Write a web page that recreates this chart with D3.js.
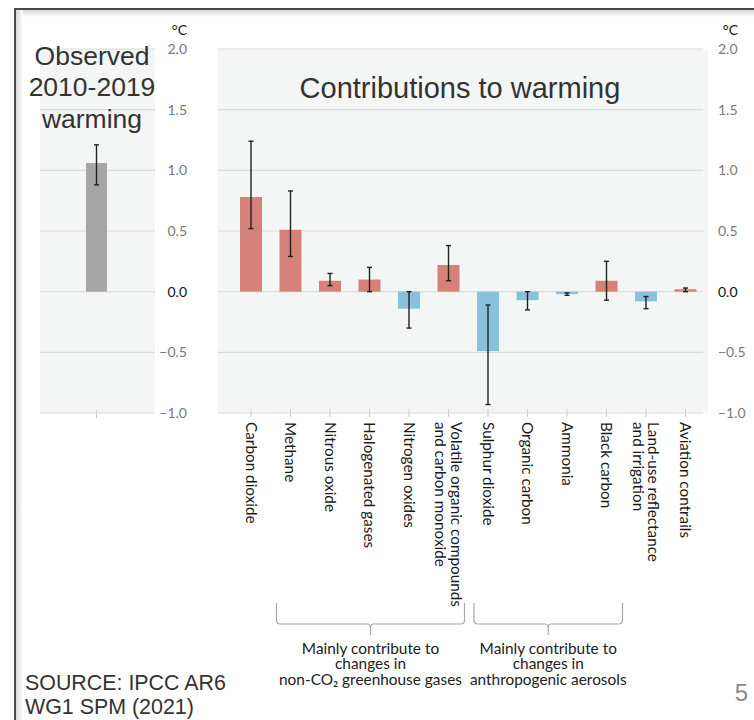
<!DOCTYPE html>
<html>
<head>
<meta charset="utf-8">
<script src="https://cdn.jsdelivr.net/npm/d3@7"></script>
<style>
  body { margin: 0; background: #fff; }
  svg { display: block; }
</style>
</head>
<body>
<svg id="chart" width="754" height="720"></svg>
<script>
// Observed warming 2010-2019 (best estimate and likely range)
const observedLabel = ["Observed", "2010-2019", "warming"];
const observedValue = [1.06];
const observedLow = [0.88];
const observedHigh = [1.21];

// Contributions to warming, by component
const categories = [
    "Carbon dioxide", "Methane", "Nitrous oxide", "Halogenated gases",
    "Nitrogen oxides", "Volatile organic compounds\nand carbon monoxide",
    "Sulphur dioxide", "Organic carbon", "Ammonia", "Black carbon",
    "Land-use reflectance\nand irrigation", "Aviation contrails"
];
const values = [0.78, 0.51, 0.09, 0.10, -0.14, 0.22, -0.49, -0.07, -0.02, 0.09, -0.08, 0.02];
const errLow = [0.52, 0.29, 0.05, 0.00, -0.30, 0.09, -0.93, -0.15, -0.03, -0.07, -0.14, 0.00];
const errHigh = [1.24, 0.83, 0.15, 0.20, 0.00, 0.38, -0.11, 0.00, -0.01, 0.25, -0.04, 0.03];

const yTicks = [-1.0, -0.5, 0.0, 0.5, 1.0, 1.5, 2.0];

const groupLabels = [
    ["Mainly contribute to", "changes in", "non-CO\u2082 greenhouse gases"],
    ["Mainly contribute to", "changes in", "anthropogenic aerosols"]
];
// first and last category of each bracket
const groupSpans = [[1, 5], [6, 9]];

const svg = d3.select("#chart");
const slideFont = "'Liberation Sans', Arial, sans-serif";
const chartFont = "Lato, 'Noto Sans', sans-serif";

// Slide frame with a soft inner shadow
const defs = svg.append("defs");
const gTop = defs.append("linearGradient").attr("id", "shadeTop")
    .attr("x1", 0).attr("y1", 0).attr("x2", 0).attr("y2", 1);
gTop.append("stop").attr("offset", 0).attr("stop-color", "#d8d8d8");
gTop.append("stop").attr("offset", 1).attr("stop-color", "#fff");
const gLeft = defs.append("linearGradient").attr("id", "shadeLeft")
    .attr("x1", 0).attr("y1", 0).attr("x2", 1).attr("y2", 0);
gLeft.append("stop").attr("offset", 0).attr("stop-color", "#d8d8d8");
gLeft.append("stop").attr("offset", 1).attr("stop-color", "#fff");

svg.append("rect").attr("x", 16).attr("y", 10).attr("width", 738).attr("height", 7)
    .attr("fill", "url(#shadeTop)");
svg.append("rect").attr("x", 16).attr("y", 10).attr("width", 7).attr("height", 710)
    .attr("fill", "url(#shadeLeft)");
svg.append("path").attr("d", "M15,720V9H754")
    .attr("fill", "none").attr("stroke", "#4a4a4a").attr("stroke-width", 2);

// Scales
const y = d3.scaleLinear().domain([-1, 2]).range([413, 49]);
const xObs = d3.scalePoint().domain(["obs"]).range([40, 153]).padding(0.5);
const x = d3.scalePoint().domain(categories).range([251, 685.5]);

const barW = 22;
const red = "#d5817a";
const blue = "#88c1dc";
const gray = "#a6a6a6";

// Panel backgrounds
svg.append("rect").attr("x", 40).attr("y", y(2)).attr("width", 115)
    .attr("height", y(-1) - y(2)).attr("fill", "#f4f6f5");
svg.append("rect").attr("x", 218).attr("y", y(2)).attr("width", 490)
    .attr("height", y(-1) - y(2)).attr("fill", "#f4f6f5");

// Gridlines
const grid = svg.append("g").attr("stroke", "#dcdcdc").attr("stroke-width", 1.2);
yTicks.forEach(t => {
    grid.append("line").attr("x1", 40).attr("x2", 155).attr("y1", y(t)).attr("y2", y(t));
    grid.append("line").attr("x1", 218).attr("x2", 703).attr("y1", y(t)).attr("y2", y(t));
});

// Axes (labels only)
function styleAxis(g) {
    g.select(".domain").remove();
    g.selectAll("text")
        .attr("font-family", chartFont)
        .attr("font-size", 14)
        .attr("fill", d => d === 0 ? "#111" : "#7a7a7a");
}
svg.append("g").attr("transform", "translate(187,0)")
    .call(d3.axisLeft(y).tickValues(yTicks).tickFormat(d3.format(".1f")).tickSize(0).tickPadding(0))
    .call(styleAxis);
svg.append("g").attr("transform", "translate(718,0)")
    .call(d3.axisRight(y).tickValues(yTicks).tickFormat(d3.format(".1f")).tickSize(0).tickPadding(0))
    .call(styleAxis);

svg.append("text").attr("x", 187).attr("y", 35).attr("text-anchor", "end")
    .attr("font-family", chartFont).attr("font-size", 14).attr("fill", "#111").text("\u00B0C");
svg.append("text").attr("x", 738).attr("y", 35).attr("text-anchor", "end")
    .attr("font-family", chartFont).attr("font-size", 14).attr("fill", "#111").text("\u00B0C");

// Category ticks
const ticks = svg.append("g").attr("stroke", "#cfcfcf").attr("stroke-width", 1.2);
ticks.append("line").attr("x1", xObs("obs")).attr("x2", xObs("obs")).attr("y1", 410).attr("y2", 418);
categories.forEach(c => {
    ticks.append("line").attr("x1", x(c)).attr("x2", x(c)).attr("y1", 409).attr("y2", 417);
});

// Observed bar
svg.append("rect")
    .attr("x", xObs("obs") - 10.5).attr("width", 21)
    .attr("y", y(observedValue[0])).attr("height", y(0) - y(observedValue[0]))
    .attr("fill", gray);

// Contribution bars
svg.append("g").selectAll("rect").data(values).join("rect")
    .attr("x", (d, i) => x(categories[i]) - barW / 2)
    .attr("width", barW)
    .attr("y", d => y(Math.max(0, d)))
    .attr("height", d => Math.abs(y(d) - y(0)))
    .attr("fill", d => d >= 0 ? red : blue);

// Error bars
function errorBar(g, cx, lo, hi) {
    g.append("line").attr("x1", cx).attr("x2", cx).attr("y1", y(lo)).attr("y2", y(hi));
    g.append("line").attr("x1", cx - 2.5).attr("x2", cx + 2.5).attr("y1", y(lo)).attr("y2", y(lo));
    g.append("line").attr("x1", cx - 2.5).attr("x2", cx + 2.5).attr("y1", y(hi)).attr("y2", y(hi));
}
const errG = svg.append("g").attr("stroke", "#222").attr("stroke-width", 1.4);
errorBar(errG, xObs("obs"), observedLow[0], observedHigh[0]);
categories.forEach((c, i) => errorBar(errG, x(c), errLow[i], errHigh[i]));

// Category labels, rotated to read downward (first line on the right)
categories.forEach(c => {
    const lines = c.split("\n");
    const t = svg.append("text")
        .attr("transform", `translate(${x(c)},422) rotate(90)`)
        .attr("font-family", chartFont)
        .attr("font-size", 15.3)
        .attr("fill", "#1a1a1a");
    lines.forEach((l, j) => {
        t.append("tspan")
            .attr("x", 0)
            .attr("y", -(lines.length - 1) * 7.75 + j * 15.5)
            .attr("dy", "0.35em")
            .text(l);
    });
});

// Titles
svg.append("text").attr("x", 460).attr("y", 98).attr("text-anchor", "middle")
    .attr("font-family", slideFont).attr("font-size", 29).attr("fill", "#333")
    .text("Contributions to warming");

observedLabel.forEach((l, i) => {
    svg.append("text").attr("x", 92).attr("y", 64.5 + i * 31.5).attr("text-anchor", "middle")
        .attr("font-family", slideFont).attr("font-size", 26.5).attr("fill", "#333")
        .text(l);
});

// Group brackets
const br = svg.append("g").attr("fill", "none").attr("stroke", "#a8a8a8").attr("stroke-width", 1.2);
groupSpans.forEach((s, k) => {
    const x0 = x(categories[s[0]]) - 14;
    const x1 = x(categories[s[1]]) + 16;
    const mid = (x0 + x1) / 2;
    const top = 603, base = 624, r = 4;
    br.append("path").attr("d",
        `M${x0},${top}V${base - r}Q${x0},${base} ${x0 + r},${base}` +
        `H${mid - 3}Q${mid},${base} ${mid},${base + 4}V635M${mid},${base + 4}Q${mid},${base} ${mid + 3},${base}` +
        `H${x1 - r}Q${x1},${base} ${x1},${base - r}V${top}`);
    groupLabels[k].forEach((l, j) => {
        svg.append("text").attr("x", mid).attr("y", 653.5 + j * 15.5).attr("text-anchor", "middle")
            .attr("font-family", chartFont).attr("font-size", 15.4).attr("fill", "#222")
            .text(l);
    });
});

// Source and slide number
svg.append("text").attr("x", 25).attr("y", 690)
    .attr("font-family", slideFont).attr("font-size", 21.4).attr("fill", "#333")
    .text("SOURCE: IPCC AR6");
svg.append("text").attr("x", 25).attr("y", 714)
    .attr("font-family", slideFont).attr("font-size", 21.4).attr("fill", "#333")
    .text("WG1 SPM (2021)");
svg.append("text").attr("x", 748).attr("y", 701).attr("text-anchor", "end")
    .attr("font-family", slideFont).attr("font-size", 24).attr("fill", "#8a8a8a")
    .text("5");
</script>
</body>
</html>
